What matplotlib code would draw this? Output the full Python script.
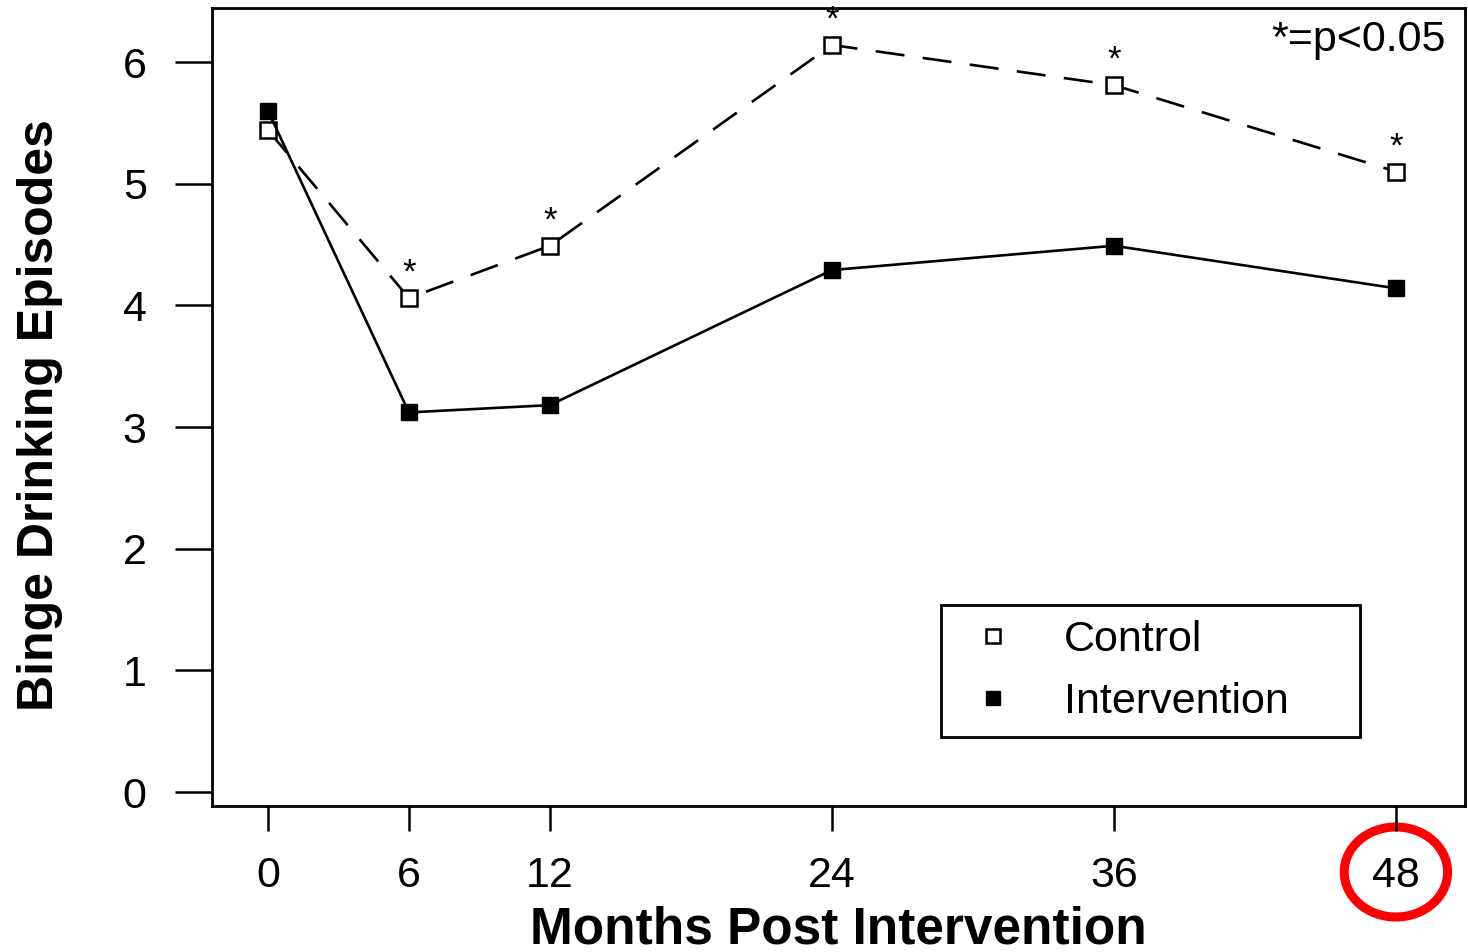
import matplotlib
matplotlib.use("Agg")
import matplotlib.pyplot as plt
from matplotlib.patches import Ellipse

plt.rcParams['font.family'] = ['Liberation Sans', 'DejaVu Sans']

months = [0, 6, 12, 24, 36, 48]
control = [5.44, 4.06, 4.49, 6.14, 5.81, 5.10]
intervention = [5.60, 3.12, 3.18, 4.29, 4.49, 4.14]
significant = [False, True, True, True, True, True]
y_ticks = [0, 1, 2, 3, 4, 5, 6]

fig = plt.figure(figsize=(14.68, 9.52), dpi=100)
ax = fig.add_axes([212 / 1468, 1 - 806 / 952, (1465 - 212) / 1468, (806 - 8) / 952])

ax.plot(months, control, color='black', linestyle=(0, (11, 7)), linewidth=1.9,
        marker='s', markersize=12, markerfacecolor='white', markeredgecolor='black',
        markeredgewidth=1.8, label='Control', zorder=3)
ax.plot(months, intervention, color='black', linestyle='-', linewidth=1.9,
        marker='s', markersize=12, markerfacecolor='black', markeredgecolor='black',
        label='Intervention', zorder=3)

# significance stars above the control points
for m, c, s in zip(months, control, significant):
    if s:
        ax.annotate('*', (m, c), xytext=(0, 6), textcoords='offset points',
                    ha='center', va='bottom', fontsize=25)

ax.text(0.985, 0.985, '*=p<0.05', transform=ax.transAxes, ha='right', va='top',
        fontsize=31)

ax.set_xlim(-2.38, 50.94)
ax.set_ylim(-0.115, 6.444)
ax.set_xticks(months)
ax.set_yticks(y_ticks)
ax.tick_params(axis='y', direction='out', length=27, width=1.8, pad=20, labelsize=31)
ax.tick_params(axis='x', direction='out', length=18, width=1.8, pad=18, labelsize=31)
for sp in ax.spines.values():
    sp.set_linewidth(2)

ax.set_ylabel('Binge Drinking Episodes', fontsize=36, fontweight='bold', va='center')
ax.yaxis.set_label_coords((40 - 212) / 1253, (806 - 415) / 798)
ax.set_xlabel('Months Post Intervention', fontsize=37, fontweight='bold', va='center')
ax.xaxis.set_label_coords((838 - 212) / 1253, (806 - 930) / 798)

leg = ax.legend(loc='upper left',
                bbox_to_anchor=((941 - 212) / 1253, (806 - 740) / 798, 419 / 1253, 135 / 798),
                mode='expand', handlelength=1.7, handletextpad=0.8, borderpad=0.35,
                labelspacing=0.5, fontsize=31, fancybox=False, edgecolor='black',
                framealpha=1, markerscale=0.85, borderaxespad=0)
leg.get_frame().set_linewidth(2)
for h in leg.legend_handles:
    h.set_linestyle('none')

# red highlight around the 48 tick label
ax.add_patch(Ellipse((48, (792 - 872) / 121.67), 4.4, 0.74, transform=ax.transData,
                     fill=False, edgecolor='#ff0000', linewidth=6.5, clip_on=False))

fig.savefig('out.png', dpi=100)
